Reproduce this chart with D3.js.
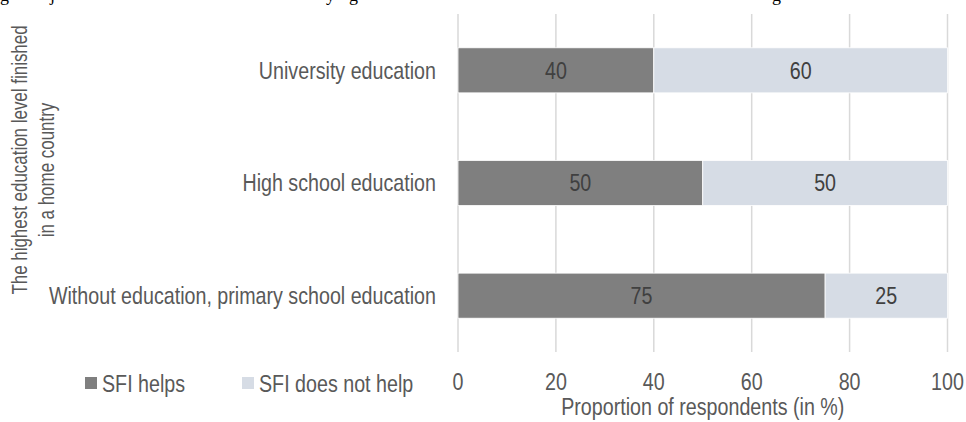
<!DOCTYPE html>
<html>
<head>
<meta charset="utf-8">
<script src="https://cdn.jsdelivr.net/npm/d3@7"></script>
<style>
  html, body { margin: 0; padding: 0; background: #fff; }
  svg { display: block; }
  text { font-family: "Liberation Sans Narrow", "Arial Narrow", "Liberation Sans", Arial, sans-serif; fill: #595959; font-size: 24px; }
</style>
</head>
<body>
<script>
// data
const categories = ["University education", "High school education", "Without education, primary school education"];
const helps = [40, 50, 75];
const notHelps = [60, 50, 25];
const seriesNames = ["SFI helps", "SFI does not help"];
const xTicks = [0, 20, 40, 60, 80, 100];
const yTitle = ["The highest education level finished", "in a home country"];
const xTitle = "Proportion of respondents (in %)";
// cut-off caption above the chart, only descenders visible
const captionBits = [["g", 0], ["j", 50], ["y", 326], ["g", 349], ["g", 772]];

const W = 966, H = 422;
const margin = { top: 14, left: 458, right: 18.5, bottom: 70 };
const cw = W - margin.left - margin.right,
      ch = H - margin.top - margin.bottom;

// the original font is a narrow one; squeeze a normal sans to fit
const SX = 0.82;
const colors = ["#7f7f7f", "#d6dce5"];

function tr(x, y) { return "translate(" + x + "," + y + ") scale(" + SX + ",1)"; }

const svg = d3.select("body").append("svg")
  .attr("width", W)
  .attr("height", H);

svg.selectAll(".cap")
  .data(captionBits)
  .enter().append("text")
  .attr("class", "cap")
  .attr("x", d => d[1])
  .attr("y", 0.5)
  .style("font-family", "'Liberation Serif', serif")
  .style("font-size", "18px")
  .style("fill", "#000")
  .text(d => d[0]);

const g = svg.append("g")
  .attr("transform", "translate(" + margin.left + "," + margin.top + ")");

var x = d3.scaleLinear().domain([0, 100]).range([0, cw]);
var y = d3.scaleBand().domain(categories).range([0, ch]).paddingInner(0.6).paddingOuter(0.3);

// gridlines
g.selectAll(".grid")
  .data(xTicks)
  .enter().append("line")
  .attr("class", "grid")
  .attr("x1", d => x(d)).attr("x2", d => x(d))
  .attr("y1", 0).attr("y2", ch)
  .attr("stroke", "#d9d9d9")
  .attr("stroke-width", 1.5);

// stacked bars
const rows = categories.map((c, i) => ({ cat: c, helps: helps[i], notHelps: notHelps[i] }));
const stack = d3.stack().keys(["helps", "notHelps"])(rows);

stack.forEach(function (layer, k) {
  g.selectAll(".bar" + k)
    .data(layer)
    .enter().append("rect")
    .attr("class", "bar" + k)
    .attr("x", d => x(d[0]))
    .attr("width", d => x(d[1]) - x(d[0]))
    .attr("y", d => y(d.data.cat))
    .attr("height", y.bandwidth())
    .attr("fill", colors[k])
    .attr("stroke", "#fff")
    .attr("stroke-width", 0.8);

  g.selectAll(".val" + k)
    .data(layer)
    .enter().append("text")
    .attr("class", "val" + k)
    .attr("transform", d => tr((x(d[0]) + x(d[1])) / 2, y(d.data.cat) + y.bandwidth() / 2))
    .attr("dy", "0.35em")
    .attr("text-anchor", "middle")
    .style("fill", "#404040")
    .text(d => d[1] - d[0]);
});

// category labels
g.selectAll(".cat")
  .data(categories)
  .enter().append("text")
  .attr("class", "cat")
  .attr("transform", d => tr(-22, y(d) + y.bandwidth() / 2))
  .attr("dy", "0.35em")
  .attr("text-anchor", "end")
  .text(d => d);

// x tick labels
g.selectAll(".tick")
  .data(xTicks)
  .enter().append("text")
  .attr("class", "tick")
  .attr("transform", d => tr(x(d), ch + 30))
  .attr("dy", "0.35em")
  .attr("text-anchor", "middle")
  .text(d => d);

// x title
g.append("text")
  .attr("transform", tr(cw / 2, ch + 55))
  .attr("dy", "0.35em")
  .attr("text-anchor", "middle")
  .text(xTitle);

// y title, two lines
const yPos = [[19, 160], [46, 170]];
svg.selectAll(".ytitle")
  .data(yTitle)
  .enter().append("text")
  .attr("class", "ytitle")
  .attr("transform", (d, i) => "translate(" + yPos[i][0] + "," + yPos[i][1] + ") rotate(-90) scale(0.77,1)")
  .attr("dy", "0.35em")
  .attr("text-anchor", "middle")
  .style("font-size", "22px")
  .text(d => d);

// legend
const leg = svg.append("g").attr("transform", "translate(85,377)");
seriesNames.forEach(function (name, i) {
  const lx = i === 0 ? 0 : 157;
  leg.append("rect")
    .attr("x", lx).attr("y", 0)
    .attr("width", 12).attr("height", 12)
    .attr("fill", colors[i]);
  leg.append("text")
    .attr("transform", tr(lx + 17, 6.5))
    .attr("dy", "0.35em")
    .text(name);
});
</script>
</body>
</html>
